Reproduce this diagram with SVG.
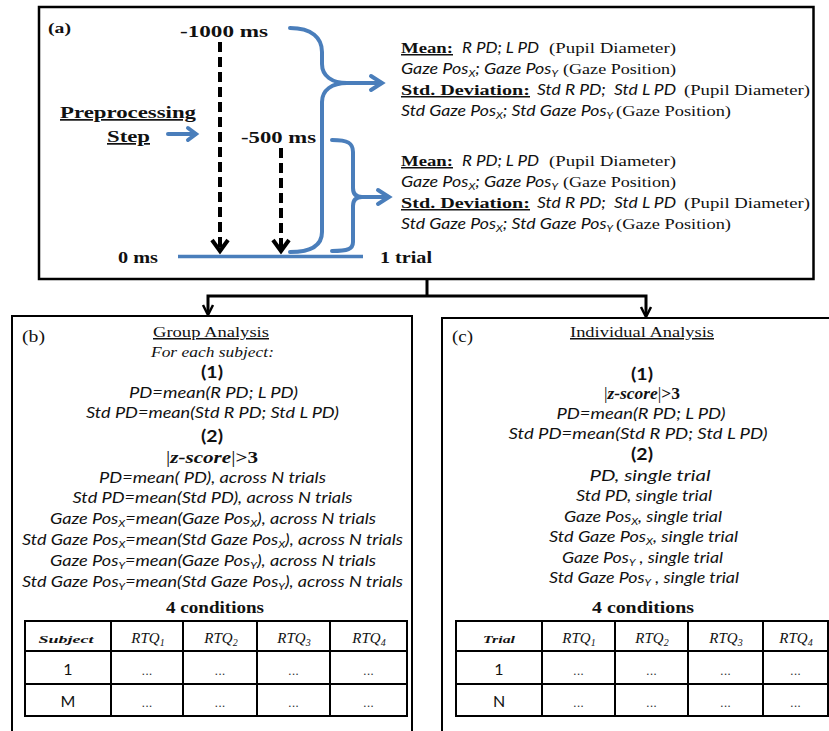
<svg xmlns="http://www.w3.org/2000/svg" width="829" height="731" viewBox="0 0 829 731">
<defs>
<style>
.box{fill:#fff;stroke:#000;stroke-width:2.5}
.tbl{fill:none;stroke:#000;stroke-width:2}
.blue{fill:none;stroke:#4A7EBB;stroke-width:4;stroke-linecap:round;stroke-linejoin:round}
.bluehead{fill:none;stroke:#4A7EBB;stroke-width:4;stroke-linecap:round;stroke-linejoin:miter}
.dash{fill:none;stroke:#000;stroke-width:4;stroke-dasharray:10 5}
.dhead{fill:none;stroke:#000;stroke-width:4;stroke-linejoin:miter}
.conn{fill:none;stroke:#000;stroke-width:3}
.chead{fill:none;stroke:#000;stroke-width:2.5;stroke-linejoin:miter}
.s{font-family:"Liberation Serif","DejaVu Serif",serif;font-size:15px;fill:#111}
.sb{font-family:"Liberation Serif","DejaVu Serif",serif;font-size:16px;font-weight:bold;fill:#111}
.si{font-family:"Liberation Serif","DejaVu Serif",serif;font-size:15px;font-style:italic;fill:#111}
.sbi{font-family:"Liberation Serif","DejaVu Serif",serif;font-size:16px;font-style:italic;font-weight:bold;fill:#111}
.ci{font-family:Lato,"Open Sans","Liberation Sans",sans-serif;font-size:16px;font-style:italic;fill:#111}
.cb{font-family:Lato,"Open Sans","Liberation Sans",sans-serif;font-size:17px;font-weight:bold;fill:#111}
.cr{font-family:Lato,"Open Sans","Liberation Sans",sans-serif;font-size:16px;fill:#111}
.dots{font-family:"Liberation Sans",sans-serif;font-size:13px;fill:#333}
.u{text-decoration:underline}
.m{text-anchor:middle}
</style>
</defs>

<g id="connectors">
  <path class="conn" d="M427,279 V296 M206.5,296 H647.5 M208,296 V313 M646,296 V315"/>
  <path class="chead" d="M203,305 L208,315 L213,305"/>
  <path class="chead" d="M641,307 L646,317 L651,307"/>
</g>

<g id="panel-a">
  <rect class="box" x="39" y="7" width="774.5" height="272"/>
  <text class="sb" x="48" y="33" textLength="23" lengthAdjust="spacingAndGlyphs" style="font-size:15px">(a)</text>
  <text class="sb" x="180" y="37" textLength="88" lengthAdjust="spacingAndGlyphs">-1000 ms</text>
  <text class="sb" x="241" y="143" textLength="75" lengthAdjust="spacingAndGlyphs">-500 ms</text>
  <text class="sb" x="118" y="263" textLength="40" lengthAdjust="spacingAndGlyphs">0 ms</text>
  <text class="sb" x="380" y="263" textLength="52" lengthAdjust="spacingAndGlyphs">1 trial</text>
  <text class="sb u" x="60" y="118" textLength="136" lengthAdjust="spacingAndGlyphs" style="font-size:17px">Preprocessing</text>
  <text class="sb u" x="107" y="142" textLength="43" lengthAdjust="spacingAndGlyphs" style="font-size:17px">Step</text>

  <path class="blue" d="M168,134 H195"/>
  <path class="bluehead" d="M188,128 L196,134 L188,140"/>

  <path class="dash" d="M220,42 V248"/>
  <path class="dhead" d="M212,240 L220,251 L228,240"/>
  <path class="dash" d="M281,148 V248"/>
  <path class="dhead" d="M273,240 L281,251 L289,240"/>

  <path class="blue" d="M178,256.5 H363" style="stroke-linecap:butt;stroke-width:3.5"/>

  <path class="blue" d="M290,28 C312,28 322,38 322,52 L322,64 C322,76 332,83 347,83 C332,83 322,90 322,102 L322,232 C322,246 310,252 290,252"/>
  <path class="blue" d="M347,83 H381"/>
  <path class="bluehead" d="M371,76 L382,83 L371,90"/>

  <path class="blue" d="M332,140 C348,140 353,143 353,152 L353,188 C353,194 356,197 362,197 C356,197 353,200 353,206 L353,242 C353,249 348,251 332,251"/>
  <path class="blue" d="M362,197 H388"/>
  <path class="bluehead" d="M378,190 L389,197 L378,204"/>

  <g id="a-block1">
    <text class="sb u" x="401" y="53" textLength="52" lengthAdjust="spacingAndGlyphs" style="font-size:15px">Mean:</text>
    <text class="ci" x="462" y="53" textLength="77" lengthAdjust="spacingAndGlyphs">R PD; L PD</text>
    <text class="s" x="549" y="53" textLength="127" lengthAdjust="spacingAndGlyphs">(Pupil Diameter)</text>
    <text class="ci" x="401" y="74" textLength="157" lengthAdjust="spacingAndGlyphs">Gaze Pos<tspan dy="3" font-size="10">X</tspan><tspan dy="-3">; Gaze Pos</tspan><tspan dy="3" font-size="10">Y</tspan></text>
    <text class="s" x="563" y="74" textLength="113" lengthAdjust="spacingAndGlyphs">(Gaze Position)</text>
    <text class="sb u" x="401" y="95" textLength="129" lengthAdjust="spacingAndGlyphs" style="font-size:15px">Std. Deviation:</text>
    <text class="ci" x="537" y="95" textLength="139" lengthAdjust="spacingAndGlyphs">Std R PD;&#160; Std L PD</text>
    <text class="s" x="684" y="95" textLength="126" lengthAdjust="spacingAndGlyphs">(Pupil Diameter)</text>
    <text class="ci" x="401" y="116" textLength="212" lengthAdjust="spacingAndGlyphs">Std Gaze Pos<tspan dy="3" font-size="10">X</tspan><tspan dy="-3">; Std Gaze Pos</tspan><tspan dy="3" font-size="10">Y</tspan></text>
    <text class="s" x="616" y="116" textLength="115" lengthAdjust="spacingAndGlyphs">(Gaze Position)</text>
  </g>
  <g id="a-block2">
    <text class="sb u" x="401" y="166" textLength="52" lengthAdjust="spacingAndGlyphs" style="font-size:15px">Mean:</text>
    <text class="ci" x="462" y="166" textLength="77" lengthAdjust="spacingAndGlyphs">R PD; L PD</text>
    <text class="s" x="549" y="166" textLength="127" lengthAdjust="spacingAndGlyphs">(Pupil Diameter)</text>
    <text class="ci" x="401" y="187" textLength="157" lengthAdjust="spacingAndGlyphs">Gaze Pos<tspan dy="3" font-size="10">X</tspan><tspan dy="-3">; Gaze Pos</tspan><tspan dy="3" font-size="10">Y</tspan></text>
    <text class="s" x="563" y="187" textLength="113" lengthAdjust="spacingAndGlyphs">(Gaze Position)</text>
    <text class="sb u" x="401" y="208" textLength="129" lengthAdjust="spacingAndGlyphs" style="font-size:15px">Std. Deviation:</text>
    <text class="ci" x="537" y="208" textLength="139" lengthAdjust="spacingAndGlyphs">Std R PD;&#160; Std L PD</text>
    <text class="s" x="684" y="208" textLength="126" lengthAdjust="spacingAndGlyphs">(Pupil Diameter)</text>
    <text class="ci" x="401" y="229" textLength="212" lengthAdjust="spacingAndGlyphs">Std Gaze Pos<tspan dy="3" font-size="10">X</tspan><tspan dy="-3">; Std Gaze Pos</tspan><tspan dy="3" font-size="10">Y</tspan></text>
    <text class="s" x="616" y="229" textLength="115" lengthAdjust="spacingAndGlyphs">(Gaze Position)</text>
  </g>
</g>

<g id="panel-b">
  <rect class="box" x="12" y="316" width="400" height="430" style="stroke-width:2"/>
  <text class="s" x="22" y="342" textLength="23" lengthAdjust="spacingAndGlyphs" style="font-size:16px">(b)</text>
  <text class="s m u" x="211" y="337" textLength="116" lengthAdjust="spacingAndGlyphs">Group Analysis</text>
  <text class="si m" x="212.5" y="357" textLength="123" lengthAdjust="spacingAndGlyphs">For each subject:</text>
  <text class="cb m" x="212" y="378" textLength="22" lengthAdjust="spacingAndGlyphs">(1)</text>
  <text class="ci m" x="213.5" y="398" textLength="169" lengthAdjust="spacingAndGlyphs">PD=mean(R PD; L PD)</text>
  <text class="ci m" x="212.5" y="418" textLength="253" lengthAdjust="spacingAndGlyphs">Std PD=mean(Std R PD; Std L PD)</text>
  <text class="cb m" x="212" y="442" textLength="22" lengthAdjust="spacingAndGlyphs">(2)</text>
  <text class="sb m" x="212" y="463" textLength="92" lengthAdjust="spacingAndGlyphs"><tspan font-weight="normal">|</tspan><tspan font-style="italic">z-score</tspan><tspan font-weight="normal">|</tspan>&gt;3</text>
  <text class="ci m" x="212.5" y="483" textLength="227" lengthAdjust="spacingAndGlyphs">PD=mean( PD), across N trials</text>
  <text class="ci m" x="212.5" y="503" textLength="280" lengthAdjust="spacingAndGlyphs">Std PD=mean(Std PD), across N trials</text>
  <text class="ci m" x="213" y="524" textLength="326" lengthAdjust="spacingAndGlyphs">Gaze Pos<tspan dy="3" font-size="10">X</tspan><tspan dy="-3">=mean(Gaze Pos</tspan><tspan dy="3" font-size="10">X</tspan><tspan dy="-3">), across N trials</tspan></text>
  <text class="ci m" x="212.5" y="545" textLength="381" lengthAdjust="spacingAndGlyphs">Std Gaze Pos<tspan dy="3" font-size="10">X</tspan><tspan dy="-3">=mean(Std Gaze Pos</tspan><tspan dy="3" font-size="10">X</tspan><tspan dy="-3">), across N trials</tspan></text>
  <text class="ci m" x="213" y="566" textLength="326" lengthAdjust="spacingAndGlyphs">Gaze Pos<tspan dy="3" font-size="10">Y</tspan><tspan dy="-3">=mean(Gaze Pos</tspan><tspan dy="3" font-size="10">Y</tspan><tspan dy="-3">), across N trials</tspan></text>
  <text class="ci m" x="212.5" y="587" textLength="381" lengthAdjust="spacingAndGlyphs">Std Gaze Pos<tspan dy="3" font-size="10">Y</tspan><tspan dy="-3">=mean(Std Gaze Pos</tspan><tspan dy="3" font-size="10">Y</tspan><tspan dy="-3">), across N trials</tspan></text>
  <text class="sb m" x="215" y="613" textLength="98" lengthAdjust="spacingAndGlyphs">4 conditions</text>

  <g id="table-b">
    <rect class="tbl" x="25" y="621" width="382" height="95"/>
    <path class="tbl" d="M25,651 H407 M25,684 H407 M111,621 V716 M183,621 V716 M257,621 V716 M330,621 V716"/>
    <text class="sbi m" x="66" y="643" textLength="55" lengthAdjust="spacingAndGlyphs" style="font-size:11px">Subject</text>
    <text class="si m" x="148" y="643">RTQ<tspan dy="3" font-size="10">1</tspan></text>
    <text class="si m" x="221" y="643">RTQ<tspan dy="3" font-size="10">2</tspan></text>
    <text class="si m" x="294" y="643">RTQ<tspan dy="3" font-size="10">3</tspan></text>
    <text class="si m" x="369" y="643">RTQ<tspan dy="3" font-size="10">4</tspan></text>
    <text class="cr m" x="68" y="675">1</text>
    <text class="cr m" x="68" y="707">M</text>
    <text class="dots m" x="147" y="675">...</text>
    <text class="dots m" x="220" y="675">...</text>
    <text class="dots m" x="293.5" y="675">...</text>
    <text class="dots m" x="368.5" y="675">...</text>
    <text class="dots m" x="147" y="707">...</text>
    <text class="dots m" x="220" y="707">...</text>
    <text class="dots m" x="293.5" y="707">...</text>
    <text class="dots m" x="368.5" y="707">...</text>
  </g>
</g>

<g id="panel-c">
  <rect class="box" x="442" y="318" width="400" height="430" style="stroke-width:2"/>
  <text class="s" x="452" y="342" textLength="21" lengthAdjust="spacingAndGlyphs" style="font-size:16px">(c)</text>
  <text class="s m u" x="642" y="337" textLength="144" lengthAdjust="spacingAndGlyphs">Individual Analysis</text>
  <text class="cb m" x="642" y="380" textLength="22" lengthAdjust="spacingAndGlyphs">(1)</text>
  <text class="sb m" x="642" y="399" textLength="76" lengthAdjust="spacingAndGlyphs"><tspan font-weight="normal">|</tspan><tspan font-style="italic">z-score</tspan><tspan font-weight="normal">|</tspan>&gt;3</text>
  <text class="ci m" x="641" y="419" textLength="169" lengthAdjust="spacingAndGlyphs">PD=mean(R PD; L PD)</text>
  <text class="ci m" x="638" y="439" textLength="259" lengthAdjust="spacingAndGlyphs">Std PD=mean(Std R PD; Std L PD)</text>
  <text class="cb m" x="642" y="460" textLength="22" lengthAdjust="spacingAndGlyphs">(2)</text>
  <text class="ci m" x="650" y="481" textLength="121" lengthAdjust="spacingAndGlyphs">PD, single trial</text>
  <text class="ci m" x="644" y="501" textLength="136" lengthAdjust="spacingAndGlyphs">Std PD, single trial</text>
  <text class="ci m" x="643" y="522" textLength="158" lengthAdjust="spacingAndGlyphs">Gaze Pos<tspan dy="3" font-size="10">X</tspan><tspan dy="-3">, single trial</tspan></text>
  <text class="ci m" x="643.5" y="542" textLength="189" lengthAdjust="spacingAndGlyphs">Std Gaze Pos<tspan dy="3" font-size="10">X</tspan><tspan dy="-3">, single trial</tspan></text>
  <text class="ci m" x="642.5" y="563" textLength="161" lengthAdjust="spacingAndGlyphs">Gaze Pos<tspan dy="3" font-size="10">Y</tspan><tspan dy="-3"> , single trial</tspan></text>
  <text class="ci m" x="644" y="583" textLength="190" lengthAdjust="spacingAndGlyphs">Std Gaze Pos<tspan dy="3" font-size="10">Y</tspan><tspan dy="-3"> , single trial</tspan></text>
  <text class="sb m" x="643" y="613" textLength="102" lengthAdjust="spacingAndGlyphs">4 conditions</text>

  <g id="table-c">
    <rect class="tbl" x="456" y="621" width="372" height="95"/>
    <path class="tbl" d="M456,651 H828 M456,684 H828 M542,621 V716 M615,621 V716 M688,621 V716 M763,621 V716"/>
    <text class="sbi m" x="499" y="643" textLength="32" lengthAdjust="spacingAndGlyphs" style="font-size:11px">Trial</text>
    <text class="si m" x="579" y="643">RTQ<tspan dy="3" font-size="10">1</tspan></text>
    <text class="si m" x="652" y="643">RTQ<tspan dy="3" font-size="10">2</tspan></text>
    <text class="si m" x="726" y="643">RTQ<tspan dy="3" font-size="10">3</tspan></text>
    <text class="si m" x="796" y="643">RTQ<tspan dy="3" font-size="10">4</tspan></text>
    <text class="cr m" x="499" y="675">1</text>
    <text class="cr m" x="499" y="707">N</text>
    <text class="dots m" x="578.5" y="675">...</text>
    <text class="dots m" x="651.5" y="675">...</text>
    <text class="dots m" x="725.5" y="675">...</text>
    <text class="dots m" x="795.5" y="675">...</text>
    <text class="dots m" x="578.5" y="707">...</text>
    <text class="dots m" x="651.5" y="707">...</text>
    <text class="dots m" x="725.5" y="707">...</text>
    <text class="dots m" x="795.5" y="707">...</text>
  </g>
</g>
</svg>
